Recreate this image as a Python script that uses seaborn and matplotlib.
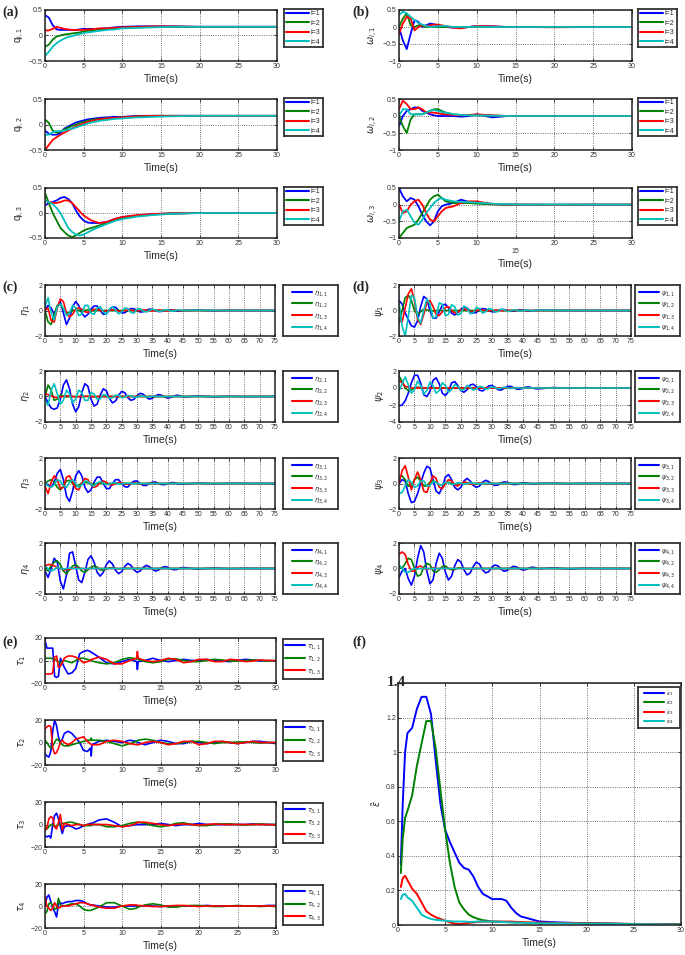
import matplotlib
matplotlib.use("Agg")
import matplotlib.pyplot as plt
import seaborn as sns
from matplotlib.lines import Line2D

sns.set_style("ticks")
plt.rcParams['font.family'] = ['Liberation Sans', 'DejaVu Sans']
plt.rcParams['mathtext.fontset'] = 'dejavusans'

W, H = 685, 955
COLORS = ['#0000ff', '#008000', '#ff0000', '#00bfbf']

# ---------------- data ----------------
# time grid of panels (a), (b)
t_ab = [0, 0.5, 1, 1.5, 2, 2.5, 3, 3.5, 4, 4.5, 5, 5.5, 6, 7, 8, 9, 10, 12, 14, 16, 20, 25, 30]

q1_1 = [0.4, 0.35, 0.2, 0.12, 0.11, 0.11, 0.11, 0.11, 0.11, 0.12, 0.13, 0.13, 0.13, 0.13, 0.14, 0.16, 0.17, 0.18, 0.18, 0.18, 0.17, 0.17, 0.17]
q1_2 = [-0.22, -0.18, -0.08, -0.02, 0.0, 0.02, 0.03, 0.04, 0.05, 0.06, 0.08, 0.09, 0.1, 0.12, 0.13, 0.14, 0.15, 0.16, 0.17, 0.17, 0.17, 0.17, 0.17]
q1_3 = [0.1, 0.1, 0.13, 0.17, 0.15, 0.13, 0.12, 0.11, 0.11, 0.11, 0.11, 0.12, 0.12, 0.14, 0.14, 0.15, 0.16, 0.17, 0.18, 0.18, 0.17, 0.17, 0.17]
q1_4 = [-0.4, -0.32, -0.22, -0.15, -0.1, -0.06, -0.03, -0.01, 0.01, 0.03, 0.05, 0.06, 0.07, 0.09, 0.11, 0.12, 0.14, 0.15, 0.16, 0.17, 0.17, 0.17, 0.17]

q2_1 = [-0.12, -0.18, -0.2, -0.2, -0.17, -0.08, -0.04, 0.0, 0.04, 0.06, 0.08, 0.1, 0.11, 0.13, 0.14, 0.15, 0.15, 0.17, 0.17, 0.17, 0.17, 0.17, 0.17]
q2_2 = [0.1, 0.03, -0.12, -0.16, -0.14, -0.1, -0.06, -0.03, 0.0, 0.03, 0.05, 0.07, 0.09, 0.11, 0.12, 0.13, 0.14, 0.16, 0.17, 0.17, 0.17, 0.17, 0.17]
q2_3 = [-0.5, -0.4, -0.3, -0.25, -0.2, -0.16, -0.12, -0.08, -0.04, -0.01, 0.02, 0.05, 0.07, 0.1, 0.12, 0.13, 0.14, 0.16, 0.17, 0.17, 0.17, 0.17, 0.17]
q2_4 = [-0.2, -0.2, -0.15, -0.13, -0.13, -0.12, -0.1, -0.08, -0.06, -0.03, -0.01, 0.02, 0.04, 0.07, 0.09, 0.11, 0.12, 0.14, 0.15, 0.16, 0.17, 0.17, 0.17]

q3_1 = [0.15, 0.2, 0.22, 0.25, 0.3, 0.32, 0.28, 0.2, 0.05, -0.07, -0.15, -0.19, -0.2, -0.2, -0.18, -0.12, -0.08, -0.05, -0.02, -0.01, 0.0, 0.0, 0.0]
q3_2 = [0.4, 0.2, 0.0, -0.15, -0.3, -0.38, -0.45, -0.48, -0.45, -0.4, -0.35, -0.32, -0.3, -0.25, -0.2, -0.14, -0.1, -0.06, -0.03, -0.01, 0.0, 0.0, 0.0]
q3_3 = [0.25, 0.22, 0.2, 0.2, 0.22, 0.25, 0.25, 0.2, 0.12, 0.03, -0.05, -0.1, -0.15, -0.2, -0.18, -0.12, -0.08, -0.04, -0.02, -0.01, 0.0, 0.0, 0.0]
q3_4 = [0.25, 0.22, 0.18, 0.1, 0.0, -0.15, -0.3, -0.38, -0.43, -0.45, -0.43, -0.39, -0.35, -0.28, -0.22, -0.16, -0.12, -0.07, -0.04, -0.02, 0.0, 0.0, 0.0]

w1_1 = [0.0, -0.4, -0.65, -0.2, 0.2, 0.15, 0.0, 0.05, 0.1, 0.08, 0.05, 0.02, 0.0, -0.02, -0.02, 0.0, 0.03, 0.02, 0.0, 0.0, 0.0, 0.0, 0.0]
w1_2 = [0.0, 0.25, 0.4, 0.05, 0.0, 0.05, 0.03, 0.0, 0.0, 0.0, 0.0, 0.0, 0.0, 0.0, 0.0, 0.0, 0.01, 0.0, 0.0, 0.0, 0.0, 0.0, 0.0]
w1_3 = [-0.2, 0.1, 0.3, 0.25, -0.1, 0.0, 0.05, 0.03, 0.05, 0.07, 0.07, 0.05, 0.03, -0.02, -0.04, 0.0, 0.03, 0.02, 0.0, 0.0, -0.01, 0.0, 0.0]
w1_4 = [0.35, 0.45, 0.4, 0.3, 0.2, 0.12, 0.07, 0.03, 0.0, 0.01, 0.02, 0.03, 0.03, 0.0, 0.0, 0.0, 0.01, 0.0, 0.0, 0.0, 0.0, 0.0, 0.0]

w2_1 = [-0.3, 0.0, 0.15, 0.2, 0.25, 0.25, 0.15, 0.1, 0.05, 0.02, 0.0, 0.0, 0.0, 0.0, -0.02, 0.0, 0.05, -0.04, 0.0, 0.0, 0.0, 0.0, 0.0]
w2_2 = [0.0, -0.3, -0.5, -0.1, 0.05, 0.05, 0.05, 0.1, 0.15, 0.2, 0.2, 0.15, 0.1, 0.05, 0.03, 0.02, 0.02, 0.01, 0.0, 0.0, 0.0, 0.0, 0.0]
w2_3 = [0.2, 0.45, 0.35, 0.2, 0.2, 0.25, 0.2, 0.1, 0.1, 0.1, 0.08, 0.06, 0.05, 0.03, 0.02, 0.03, 0.05, 0.02, 0.0, 0.0, 0.0, 0.0, 0.0]
w2_4 = [0.0, 0.2, 0.2, 0.05, 0.05, 0.05, 0.05, 0.1, 0.15, 0.18, 0.15, 0.12, 0.1, 0.05, 0.03, 0.02, 0.02, 0.01, 0.0, 0.0, 0.0, 0.0, 0.0]

w3_1 = [0.5, 0.25, 0.1, 0.2, 0.15, -0.05, -0.3, -0.5, -0.62, -0.5, -0.2, -0.05, 0.0, 0.05, 0.15, 0.08, 0.05, 0.02, 0.0, 0.0, 0.0, 0.0, 0.0]
w3_2 = [-1.0, -0.85, -0.7, -0.65, -0.6, -0.45, -0.25, -0.05, 0.15, 0.25, 0.3, 0.2, 0.1, 0.05, 0.05, 0.05, 0.03, 0.01, 0.0, 0.0, 0.0, 0.0, 0.0]
w3_3 = [0.0, -0.25, -0.2, 0.0, 0.1, 0.15, 0.0, -0.25, -0.45, -0.5, -0.35, -0.2, -0.1, -0.05, 0.05, 0.1, 0.1, 0.02, 0.0, 0.0, -0.01, 0.0, 0.0]
w3_4 = [-0.5, -0.2, -0.15, -0.35, -0.55, -0.6, -0.45, -0.25, -0.1, 0.05, 0.15, 0.2, 0.15, 0.1, 0.08, 0.08, 0.06, 0.03, 0.01, 0.0, 0.0, 0.0, 0.0]

# time grid of panels (c), (d)
t_cd = list(range(0, 46)) + [50, 55, 60, 65, 70, 75]

eta1_1 = [0, 0.4, 0.2, -0.3, 0.3, 0.7, -0.2, -1.1, -0.6, 0.3,
          0.7, 0.4, -0.2, -0.5, -0.3, 0.1, 0.35, 0.35, 0.0, -0.3,
          -0.25, 0.05, 0.28, 0.25, 0.0, -0.18, -0.18, 0.0, 0.15, 0.14,
          0.0, -0.12, -0.1, 0.02, 0.1, 0.09, 0.0, -0.08, -0.07, 0.0,
          0.06, 0.05, 0.0, -0.05, -0.04, 0.0, 0.03, -0.02, 0.01, 0, 0, 0]
eta1_2 = [0, -0.9, -1.1, -0.3, 0.4, 0.5, 0.1, -0.2, -0.15, 0.0,
          0.05, 0.0, -0.05, 0.0, 0.05, 0.0, -0.03, 0.0, 0.02, 0.0] + [0.0] * 32
eta1_3 = [0, 0.2, -0.8, -0.9, 0.2, 0.9, 0.7, -0.2, -0.5, -0.3,
          0.1, 0.2, 0.1, -0.1, -0.15, -0.05, 0.1, 0.1, 0.0, -0.08,
          -0.05, 0.03, 0.06, 0.02, -0.04, -0.04, 0.0, 0.03, 0.02, -0.02,
          -0.02, 0.0, 0.03, 0.02, -0.02, -0.03, 0.0, 0.03, 0.02, -0.02,
          -0.03, 0.0, 0.02, 0.01, -0.02, -0.01, 0.01, 0, 0, 0, 0, 0]
eta1_4 = [0.3, 1.0, -0.2, -0.7, 0.3, 0.5, 0.2, -0.4, -0.2, 0.4,
          0.2, -0.4, -0.3, 0.4, 0.4, -0.2, -0.3, 0.2, 0.3, -0.1,
          -0.3, 0.1, 0.3, 0.0, -0.25, -0.1, 0.2, 0.15, -0.15, -0.2,
          0.1, 0.15, -0.05, -0.12, 0.0, 0.1, 0.05, -0.07, -0.05, 0.05,
          0.05, -0.03, -0.04, 0.02, 0.03, 0.0, 0.02, 0, 0, 0, 0, 0]

eta2_1 = [0, -0.5, -0.9, -1.0, -0.9, -0.2, 0.9, 1.3, 0.6, -0.6,
          -1.2, -0.8, 0.3, 1.0, 0.8, -0.2, -0.75, -0.6, 0.1, 0.6,
          0.45, -0.15, -0.5, -0.35, 0.1, 0.4, 0.3, -0.1, -0.3, -0.22,
          0.05, 0.25, 0.18, -0.05, -0.2, -0.14, 0.05, 0.15, 0.1, -0.04,
          -0.12, -0.08, 0.03, 0.1, 0.06, -0.03, 0.04, -0.03, 0.02, -0.01, 0, 0]
eta2_2 = [0, 0.9, 0.5, -0.3, -0.2, 0.1, 0.05, -0.05, 0, 0] + [0.0] * 42
eta2_3 = [0.2, 0.15, 0.05, -0.05, -0.1, -0.05, 0, 0.05, 0.03, 0,
          -0.03, -0.02, 0, 0.02, 0.02, 0, -0.02, 0, 0, 0] + [0.0] * 32
eta2_4 = [-0.3, -0.7, 0.5, 1.0, 0.2, -0.6, -0.3, 0.5, 0.2, -0.5,
          -0.2, 0.5, 0.3, -0.3, -0.3, 0.3, 0.2, -0.2, -0.2, 0.15,
          0.1, -0.15, -0.1, 0.1, 0.1, -0.1, -0.05, 0.08, 0.05, -0.05,
          -0.04, 0.03, 0.03, -0.03, -0.02, 0.02, 0.02, -0.02, 0, 0] + [0.0] * 12

eta3_1 = [0, -0.1, -0.3, 0.1, 0.8, 1.1, 0.3, -1.0, -1.4, -0.6,
          0.6, 1.0, 0.6, -0.3, -0.7, -0.5, 0.1, 0.5, 0.5, 0.0,
          -0.4, -0.4, 0.0, 0.3, 0.3, 0.0, -0.25, -0.28, 0.0, 0.18,
          0.2, 0.0, -0.15, -0.15, 0.0, 0.1, 0.12, 0.0, -0.08, -0.09,
          0, 0.06, 0.07, 0, -0.05, -0.05, 0.03, -0.02, 0.01, 0, 0, 0]
eta3_2 = [0, 0.2, 0.3, 0.1, -0.3, -0.5, -0.2, 0.2, 0.25, 0,
          -0.2, -0.15, 0.05, 0.1, 0.05, -0.05, -0.05, 0, 0.03, 0] + [0.0] * 32
eta3_3 = [-0.2, -0.8, 0.1, 0.6, 0.3, -0.4, -0.3, 0.5, 0.6, 0.1,
          -0.4, -0.5, 0.0, 0.4, 0.3, -0.1, -0.3, -0.2, 0.1, 0.2,
          0.1, -0.1, -0.12, 0, 0.08, 0.05, -0.04, -0.05, 0, 0.03,
          0.02, -0.02, -0.02, 0, 0.02, 0.01, -0.01, 0, 0, 0] + [0.0] * 12
eta3_4 = [0, -0.2, -0.3, -0.1, 0.3, 0.2, -0.2, -0.3, 0.1, 0.3,
          0.0, -0.3, -0.1, 0.2, 0.15, -0.1, -0.2, 0.05, 0.15, 0.05,
          -0.1, -0.05, 0.05, 0.05, -0.03, -0.03, 0.02, 0.02, 0, 0] + [0.0] * 22

eta4_1 = [-0.2, -0.7, 0.0, 0.8, 0.5, -1.0, -1.6, -0.5, 1.2, 1.3,
          0.2, -0.9, -1.1, -0.3, 0.7, 1.0, 0.5, -0.3, -0.6, -0.3,
          0.3, 0.6, 0.35, -0.15, -0.4, -0.25, 0.15, 0.4, 0.25, -0.1,
          -0.3, -0.2, 0.08, 0.25, 0.15, -0.05, -0.2, -0.12, 0.05, 0.15,
          0.1, -0.03, -0.1, -0.08, 0.03, 0.08, -0.05, 0.04, -0.02, 0.01, 0, 0]
eta4_2 = [0.0, -0.2, 0.2, 0.5, 0.6, 0.3, -0.2, -0.4, -0.1, 0.2,
          0.3, 0.1, -0.2, -0.3, -0.1, 0.1, 0.2, 0.1, -0.1, -0.15,
          -0.05, 0.05, 0.05, 0, -0.03, 0, 0, 0, 0, 0] + [0.0] * 22
eta4_3 = [0.2, 0.3, 0.3, 0.2, 0.1, 0.0, -0.1, -0.1, -0.05, 0,
          0.05, 0.03, 0, -0.02, 0, 0, 0, 0, 0, 0] + [0.0] * 32
eta4_4 = [0.2, 0.0, -0.2, -0.1, 0.1, 0.0, -0.05, 0, 0.03, 0] + [0.0] * 42

psi1_1 = [0.8, 0.5, -0.2, -0.7, -1.2, -1.3, -0.8, 0.3, 1.1, 0.9,
          0.0, -0.6, -0.6, -0.1, 0.4, 0.5, 0.2, -0.2, -0.35, -0.2,
          0.1, 0.25, 0.2, -0.05, -0.2, -0.15, 0.05, 0.15, 0.12, 0,
          -0.1, -0.1, 0, 0.08, 0.07, 0, -0.06, -0.05, 0, 0.04,
          0.03, 0, -0.03, -0.02, 0, 0.02, 0.01, 0, 0, 0, 0, 0]
psi1_2 = [-1.0, 0.0, 1.0, 1.2, 0.8, 0.0, -0.3, -0.1, 0.1, 0.05,
          0, -0.03, 0, 0.02, 0, 0, 0, 0, 0, 0] + [0.0] * 32
psi1_3 = [-0.8, -0.9, 0.2, 1.3, 1.7, 0.8, -0.7, -1.1, -0.3, 0.6,
          0.8, 0.3, -0.3, -0.4, -0.1, 0.25, 0.3, 0.0, -0.2, -0.15,
          0.05, 0.12, 0.05, -0.08, -0.08, 0, 0.05, 0.03, -0.03, -0.03,
          0, 0.02, 0.02, -0.02, -0.01, 0, 0.01, 0, 0, 0] + [0.0] * 12
psi1_4 = [0.6, -1.2, -2.0, -0.5, 1.2, 1.0, -0.5, -1.0, 0.0, 0.9,
          0.5, -0.6, -0.5, 0.6, 0.5, -0.4, -0.3, 0.45, 0.3, -0.35,
          -0.25, 0.35, 0.2, -0.25, -0.2, 0.25, 0.15, -0.2, -0.1, 0.15,
          0.1, -0.12, -0.08, 0.1, 0.06, -0.08, -0.05, 0.06, 0.03, -0.05,
          -0.02, 0.04, 0.02, -0.03, 0, 0.02, 0.01, 0, 0, 0, 0, 0]

psi2_1 = [-2.1, -2.0, -1.5, -0.6, 0.6, 1.5, 1.5, 0.6, -0.8, -1.0,
          -0.4, 0.9, 1.2, 0.5, -0.6, -0.9, -0.4, 0.6, 0.75, 0.3,
          -0.3, -0.5, -0.2, 0.35, 0.45, 0.15, -0.25, -0.35, -0.1, 0.25,
          0.3, 0.1, -0.2, -0.25, -0.05, 0.18, 0.2, 0.05, -0.12, -0.15,
          -0.03, 0.1, 0.12, 0.02, -0.08, -0.1, 0.05, -0.04, 0.03, -0.01, 0, 0]
psi2_2 = [1.4, 0.8, 0.0, -0.3, -0.2, 0.0, 0.1, 0.05, -0.05, 0] + [0.0] * 42
psi2_3 = [0.9, 0.6, 0.2, 0.1, 0.0, 0.0, 0.02, 0, 0, 0] + [0.0] * 42
psi2_4 = [-0.3, 0.5, 1.3, 0.4, -0.6, -0.2, 0.8, 0.3, -0.7, -0.3,
          0.7, 0.3, -0.6, -0.3, 0.6, 0.3, -0.5, -0.2, 0.4, 0.2,
          -0.3, -0.2, 0.3, 0.1, -0.25, -0.1, 0.2, 0.1, -0.15, -0.05,
          0.12, 0.05, -0.1, -0.03, 0.08, 0.02, -0.06, 0, 0.04, 0,
          -0.03, 0, 0.02, 0, 0, 0, 0, 0, 0, 0, 0, 0]

psi3_1 = [0.0, 0.3, 0.2, -0.8, -1.5, -1.4, -0.8, 0.0, 0.8, 1.35,
          1.2, 0.3, -0.6, -0.8, -0.3, 0.5, 0.7, 0.3, -0.3, -0.5,
          -0.3, 0.2, 0.4, 0.2, -0.15, -0.3, -0.2, 0.1, 0.25, 0.15,
          -0.05, -0.15, -0.12, 0.05, 0.12, 0.1, 0, -0.08, -0.07, 0,
          0.06, 0.05, 0, -0.04, -0.04, 0, 0.02, -0.02, 0.01, 0, 0, 0]
psi3_2 = [0.5, 0.6, 0.3, -0.2, -0.2, 0.3, 0.5, 0.2, -0.2, -0.2,
          0.1, 0.2, 0.1, -0.1, -0.1, 0.05, 0.1, 0, -0.05, 0] + [0.0] * 32
psi3_3 = [0.0, 1.0, 1.4, 0.5, -0.5, 0.3, 0.9, 0.3, -0.6, -0.7,
          0.0, 0.6, 0.4, -0.3, -0.4, 0.0, 0.3, 0.2, -0.1, -0.2,
          0.0, 0.12, 0.08, -0.05, -0.07, 0, 0.04, 0.03, -0.02, -0.02] + [0.0] * 22
psi3_4 = [-0.8, -0.7, -0.2, 0.3, 0.1, -0.3, -0.2, 0.2, 0.2, -0.2,
          -0.15, 0.15, 0.1, -0.1, -0.1, 0.1, 0.05, -0.08, -0.03, 0.05,
          0.02, -0.03, 0, 0.02, 0, 0, 0, 0, 0, 0] + [0.0] * 22

psi4_1 = [-0.7, -0.2, 0.0, -0.8, -1.3, -0.6, 0.8, 1.8, 1.3, -0.2,
          -1.2, -0.9, 0.4, 1.2, 0.8, -0.3, -0.9, -0.6, 0.2, 0.7,
          0.5, -0.1, -0.5, -0.35, 0.15, 0.5, 0.35, -0.1, -0.35, -0.25,
          0.1, 0.28, 0.2, -0.05, -0.22, -0.15, 0.05, 0.17, 0.12, -0.03,
          -0.12, -0.09, 0.03, 0.1, 0.07, -0.02, 0.05, -0.04, 0.02, 0, 0, 0]
psi4_2 = [0.2, 0.0, 0.4, 0.8, 0.7, 0.0, -0.6, -0.5, 0.1, 0.4,
          0.3, -0.2, -0.3, -0.1, 0.15, 0.2, 0.0, -0.1, -0.08, 0.03,
          0.05, 0, -0.02, 0, 0, 0, 0, 0, 0, 0] + [0.0] * 22
psi4_3 = [1.1, 1.3, 1.1, 0.3, -0.2, -0.2, 0.1, 0.2, 0.0, -0.05,
          0.0, 0.05, 0, 0, 0, 0, 0, 0, 0, 0] + [0.0] * 32
psi4_4 = [0.3, 0.0, -0.3, -0.3, -0.1, 0.0, -0.05, 0, 0, 0] + [0.0] * 42

# time grid of panel (e)
t_e = [0, 0.25, 0.5, 0.75, 1, 1.25, 1.5, 1.75, 2, 2.25, 2.5, 3, 3.5, 4, 4.5, 5, 5.5, 5.9, 6, 6.1,
       7, 8, 9, 10, 11, 11.9, 12, 12.1, 13, 14, 15, 16, 17, 18, 19, 20, 21, 22, 23, 24,
       25, 26, 27, 28, 29, 30]

tau1_1 = [18, 11, 11, 11, 11, -14, -15, -14, 2, -2, -6, -12, -11, -7, 6, 8, 9, 8, 7, 7,
          3, -2, -3, -1, 1, -1, -8, -1, 0, 2, 0, -1, 0, 1, 0, 0, 1, 0, -0.5, -1,
          0, 1, 0.5, -0.5, 0, -0.5]
tau1_2 = [2, 2, 2, 2, 1.5, 1, 0, -1, -2, -1, 0, -1, -2, 0, 2, 2, 1, 0, 0, -0.5,
          -2, -3, -2, 1, 2.5, 1.5, 1, 1, -1, -2, -1, 1, 1.5, 0, -1, -1, 0, 1, 0.5, -0.5,
          -0.5, 0, 0.5, 0, -0.5, 0]
tau1_3 = [-12, -12, -12, -12, -11, 3, 4, -6, -5, -2, 2, 4, 4, 3, 1, -2, -1, 0, 1, 1,
          3, 1, -3, -3, 0, 2, 8, 2, 0, -1, 0, 2, 1, -2, -1, 1, 1, -1, -1, 1,
          0.5, -1, -0.5, 0.5, 0, 0]

tau2_1 = [-10, -12, -13, -8, 10, 20, 15, 5, 0, 3, 8, 10, 8, 4, 0, -7, -8, -5, -12, -2,
          1, 2, 1, 0, 2, 1, 0, 0, -2, 0, 2, 1, -1, -1, 1, 0, -1, 0, 1, 0,
          -1, 0, 1, 1, 0, -1]
tau2_2 = [2, 0, -3, -5, -3, 0, 3, 2, 0, -2, -3, -3, -2, -1, 0, 1, 2, 2, 4, 2,
          2, 1, -1, -3, -1, 1, 2, 2, 3, 2, 0, -1, -1, 0, 1, 1, 0, -1, 0, 0,
          0.5, 0.5, 0, -0.5, 0, 0]
tau2_3 = [12, 14, 15, 14, -5, -10, -9, -5, 0, 2, 0, -2, 0, 3, 4, 5, 1, -1, -2, -2,
          -2, 1, 2, 1, -1, -2, -2, -2, 0, 1, 0, -2, -1, 1, 1, -2, -1, 1, 1, 0,
          -1, 0, 1, 0, 0, 0]

tau3_1 = [-10, -11, -10, -12, 0, 8, 10, 5, -2, -8, -2, -1, -2, -4, -3, -1, 0, 1, 1, 1,
          4, 5, 2, -2, -1, 0, 0, 0, 0, 0, 1, 0, -1, 0, 0, 1, 0, 0, 0, 0,
          0, 0, 0.5, 0, 0, 0]
tau3_2 = [-5, -4, -2, 0, 0, -2, -1, 0, 0, 1, 1, 2, 2, 1, 0, -1, -1, -1, -1, 0,
          0, -2, -2, -1, 1, 2, 2, 2, 1, -1, -2, -1, 1, 1.5, 0, -1, -1, 0, 0.5, 0.5,
          0, -0.5, 0, 0.5, 0, 0]
tau3_3 = [-5, -3, 5, 7, 6, -2, -4, 2, 9, -5, 1, 0, -1, 0, 0, -1, 0, 0, 0, 0,
          0, 0, -1, -2, -1, 1, 2, 2, 2, 1, 0, -1, 0, 0.5, 0, -0.5, 0, 0.5, 0, 0,
          0, 0, 0, 0, 0, -0.5]

tau4_1 = [0, 8, 10, 4, -2, -5, -10, 2, 3, 2, 3, 4, 4, 5, 5, 4, 2, 1, 1, 1,
          0, -1, -1, 0, 0, 0, 0, 0, 0, 0, -0.5, 0, 0, 0, 0, 0, 0.5, 0, 0, 0,
          0, 0, 0, 0, 0.5, 0.5]
tau4_2 = [-7, -5, 2, 3, 0, -3, -2, 7, 1, 0, 0, 1, 2, 2, 0, -3, -4, -4, -4, -3.5,
          -1, 3, 3, 0, -3, -2, -1, -1, 1, 2, 1, -1, -1, 0, 0.5, 0.5, 0, -0.5, -0.5, 0,
          0.5, 0, 0, -0.5, 0, -0.5]
tau4_3 = [8, 0, -2, -4, -2, 3, 0, -2, -1, 0, 0, 0, 1, 2, 3, 3, 2, 1, 1, 1,
          -1, -2, -2, 0, 1, 1, 0.5, 0.5, 0, -0.5, -0.5, 0, 0.5, 0.5, 0, -0.5, 0, 0, 0, 0,
          0, 0, 0, 0, 0, 0]

# time grid of panel (f)
t_f = [0.3, 0.5, 0.75, 1, 1.5, 2, 2.5, 3, 3.5, 4, 4.5, 5, 5.5, 6, 6.5, 7, 7.5, 8, 8.5, 9,
       10, 11, 11.5, 12, 12.5, 13, 14, 15, 17, 20, 25, 30]
eps_1 = [0.35, 0.7, 1.0, 1.11, 1.14, 1.25, 1.32, 1.32, 1.22, 0.95, 0.7, 0.55, 0.48, 0.42, 0.36, 0.33, 0.32, 0.28, 0.22, 0.18,
         0.15, 0.15, 0.14, 0.1, 0.07, 0.05, 0.035, 0.02, 0.015, 0.01, 0.005, 0.003]
eps_2 = [0.3, 0.5, 0.62, 0.66, 0.75, 0.92, 1.05, 1.18, 1.18, 1.02, 0.78, 0.55, 0.36, 0.22, 0.13, 0.09, 0.06, 0.045, 0.035, 0.028,
         0.02, 0.018, 0.017, 0.016, 0.015, 0.015, 0.012, 0.012, 0.012, 0.01, 0.006, 0.004]
eps_3 = [0.22, 0.27, 0.285, 0.26, 0.21, 0.18, 0.13, 0.08, 0.06, 0.045, 0.035, 0.025, 0.015, 0.008, 0.005, 0.008, 0.012, 0.015, 0.018, 0.02,
         0.02, 0.02, 0.02, 0.02, 0.018, 0.017, 0.015, 0.014, 0.012, 0.01, 0.006, 0.004]
eps_4 = [0.15, 0.175, 0.18, 0.16, 0.14, 0.1, 0.06, 0.045, 0.035, 0.03, 0.027, 0.025, 0.022, 0.02, 0.02, 0.02, 0.018, 0.018, 0.02, 0.02,
         0.02, 0.018, 0.016, 0.015, 0.014, 0.013, 0.012, 0.01, 0.01, 0.008, 0.005, 0.003]

# ---------------- drawing ----------------
fig = plt.figure(figsize=(W / 100, H / 100), dpi=100)


def px_ax(x0, y0, x1, y1):
    return fig.add_axes([x0 / W, 1 - y1 / H, (x1 - x0) / W, (y1 - y0) / H])


def panel(box, t, series, xmax, xstep, yticks, ylabels, ylabel, xlabel=True, lw=1.3):
    ax = px_ax(*box)
    for y, c in zip(series, COLORS):
        sns.lineplot(x=t, y=y, color=c, linewidth=lw, ax=ax, legend=False)
    ax.set_xlim(0, xmax)
    ax.set_ylim(yticks[0], yticks[-1])
    ax.set_xticks(list(range(0, xmax + 1, xstep)))
    ax.set_yticks(yticks)
    ax.set_yticklabels(ylabels)
    ax.grid(True, linestyle=':', color='#444444', linewidth=0.6)
    ax.tick_params(direction='in', length=2.5, width=0.6, labelsize=5, pad=1.5,
                   top=True, right=True, labelcolor='#333333')
    for s in ax.spines.values():
        s.set_linewidth(1.1)
        s.set_color('#222222')
    ax.set_ylabel(ylabel, fontsize=7, labelpad=2)
    ax.set_xlabel('Time(s)' if xlabel else '', fontsize=7.5, labelpad=3)
    return ax


def legend_box(box, labels, fs=5, spacing=0.5, hl=3.2):
    lax = px_ax(*box)
    lax.set_xticks([])
    lax.set_yticks([])
    for s in lax.spines.values():
        s.set_linewidth(1.3)
        s.set_color('#333333')
    handles = [Line2D([], [], color=c, linewidth=1.5) for c in COLORS[:len(labels)]]
    lax.legend(handles, labels, loc='center', frameon=False, fontsize=fs,
               labelspacing=spacing, handlelength=hl, handletextpad=0.3,
               borderpad=0, borderaxespad=0)
    return lax


def panel_label(x, y, s):
    fig.text(x / W, 1 - y / H, s, fontfamily=['Liberation Serif', 'DejaVu Serif'],
             fontweight='bold', fontsize=10, va='center', ha='left')


ya = [-0.5, 0, 0.5]
ya_l = ['\u22120.5', '0', '0.5']
yb = [-1, -0.5, 0, 0.5]
yb_l = ['\u22121', '\u22120.5', '0', '0.5']
yc = [-2, 0, 2]
yc_l = ['\u22122', '0', '2']
yd2 = [-4, -2, 0, 2]
yd2_l = ['\u22124', '\u22122', '0', '2']
ye = [-20, 0, 20]
ye_l = ['\u221220', '0', '20']
i_labels = ['i=1', 'i=2', 'i=3', 'i=4']

# (a)
a_rows = [(10, 61), (99, 150), (188, 238)]
a_data = [[q1_1, q1_2, q1_3, q1_4], [q2_1, q2_2, q2_3, q2_4], [q3_1, q3_2, q3_3, q3_4]]
for k, ((y0, y1), ser) in enumerate(zip(a_rows, a_data)):
    panel((45, y0, 277, y1), t_ab, ser, 30, 5, ya, ya_l, r'$\mathregular{q_{i,%d}}$' % (k + 1))
    legend_box((284, y0 - 1, 323, y0 + 37), i_labels, spacing=0.35)

# (b)
b_data = [[w1_1, w1_2, w1_3, w1_4], [w2_1, w2_2, w2_3, w2_4], [w3_1, w3_2, w3_3, w3_4]]
for k, ((y0, y1), ser) in enumerate(zip(a_rows, b_data)):
    ax = panel((399, y0, 632, y1), t_ab, ser, 30, 5, yb, yb_l, r'$\omega_{i,%d}$' % (k + 1))
    if k == 2:
        ax.set_xticklabels(['0', '5', '10', '\n15', '20', '25', '30'])
    legend_box((638, y0 - 1, 677, y0 + 37), i_labels, spacing=0.35)

# (c) and (d)
cd_rows = [(285, 336), (371, 422), (458, 509), (543, 594)]
c_data = [[eta1_1, eta1_2, eta1_3, eta1_4], [eta2_1, eta2_2, eta2_3, eta2_4],
          [eta3_1, eta3_2, eta3_3, eta3_4], [eta4_1, eta4_2, eta4_3, eta4_4]]
d_data = [[psi1_1, psi1_2, psi1_3, psi1_4], [psi2_1, psi2_2, psi2_3, psi2_4],
          [psi3_1, psi3_2, psi3_3, psi3_4], [psi4_1, psi4_2, psi4_3, psi4_4]]
for k, ((y0, y1), ser) in enumerate(zip(cd_rows, c_data)):
    panel((45, y0, 275, y1), t_cd, ser, 75, 5, yc, yc_l, r'$\eta_%d$' % (k + 1), lw=1.2)
    legend_box((283, y0, 338, y1), [r'$\eta_{%d,%d}$' % (k + 1, j) for j in range(1, 5)],
               fs=4.8, spacing=0.4, hl=3.0)
for k, ((y0, y1), ser) in enumerate(zip(cd_rows, d_data)):
    yt, yl = (yd2, yd2_l) if k == 1 else (yc, yc_l)
    panel((399, y0, 631, y1), t_cd, ser, 75, 5, yt, yl, r'$\psi_%d$' % (k + 1), lw=1.2)
    legend_box((635, y0, 680, y1), [r'$\psi_{%d,%d}$' % (k + 1, j) for j in range(1, 5)],
               fs=4.8, spacing=0.4, hl=3.0)

# (e)
e_rows = [(638, 683), (720, 765), (802, 847), (884, 928)]
e_data = [[tau1_1, tau1_2, tau1_3], [tau2_1, tau2_2, tau2_3],
          [tau3_1, tau3_2, tau3_3], [tau4_1, tau4_2, tau4_3]]
for k, ((y0, y1), ser) in enumerate(zip(e_rows, e_data)):
    panel((45, y0, 276, y1), t_e, ser, 30, 5, ye, ye_l, r'$\tau_%d$' % (k + 1), lw=1.2)
    legend_box((283, y0 + 1, 323, y0 + 41), [r'$\tau_{%d,%d}$' % (k + 1, j) for j in range(1, 4)],
               fs=4.8, spacing=0.5, hl=3.0)

# (f)
yf = [0, 0.2, 0.4, 0.6, 0.8, 1.0, 1.2, 1.4]
yf_l = ['0', '0.2', '0.4', '0.6', '0.8', '1', '1.2', '']
axf = panel((398, 683, 681, 925), t_f, [eps_1, eps_2, eps_3, eps_4], 30, 5, yf, yf_l,
            r'$\tilde{\epsilon}$', lw=1.4)
fig.text(396 / W, 1 - 683 / H, '1.4', fontfamily=['Liberation Serif', 'DejaVu Serif'],
         fontweight='bold', fontsize=11, ha='center', va='center')
legend_box((638, 687, 680, 728), [r'$\tilde{\epsilon}_%d$' % j for j in range(1, 5)],
           fs=4.3, spacing=0.05, hl=3.4)

panel_label(2, 12, '(a)')
panel_label(352, 12, '(b)')
panel_label(2, 287, '(c)')
panel_label(352, 287, '(d)')
panel_label(2, 642, '(e)')
panel_label(352, 642, '(f)')

fig.savefig('out.png', dpi=100)
